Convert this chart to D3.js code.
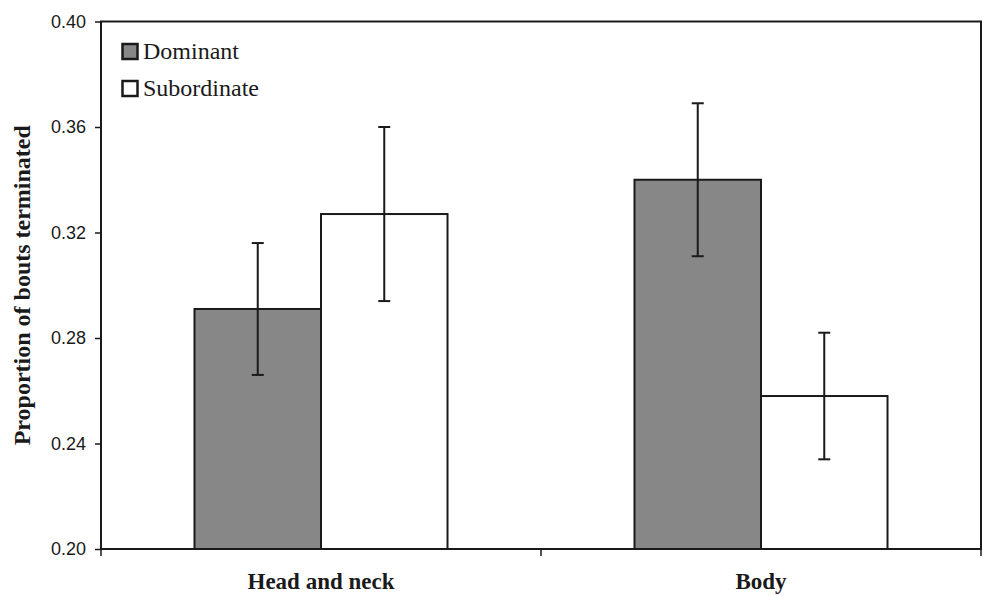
<!DOCTYPE html>
<html>
<head>
<meta charset="utf-8">
<script src="https://cdn.jsdelivr.net/npm/d3@7"></script>
<style>
  html, body { margin: 0; padding: 0; background: #fff; }
  svg { display: block; }
</style>
</head>
<body>
<svg id="chart" width="984" height="596"></svg>
<script>
// Body regions and rank groups
const categories = ["Head and neck", "Body"];
const series = ["Dominant", "Subordinate"];
// Mean proportion of bouts terminated, per series, per region
const dominantValues = [0.291, 0.340];
const subordinateValues = [0.327, 0.258];
// Error (± half-width) for each bar
const dominantErrors = [0.025, 0.029];
const subordinateErrors = [0.033, 0.024];
const yTicks = [0.20, 0.24, 0.28, 0.32, 0.36, 0.40];

const fills = { Dominant: "#878787", Subordinate: "#ffffff" };

const rows = [];
categories.forEach((c, i) => {
  rows.push({ cat: c, s: "Dominant", v: dominantValues[i], e: dominantErrors[i] });
  rows.push({ cat: c, s: "Subordinate", v: subordinateValues[i], e: subordinateErrors[i] });
});

const svg = d3.select("#chart");
const m = { left: 101, right: 981, top: 21.5, bottom: 549 };

const x0 = d3.scaleBand().domain(categories).range([m.left, m.right]).padding(0);
const x1 = d3.scaleBand().domain(series).range([0, x0.bandwidth()])
  .paddingInner(0).paddingOuter(0.739);
const y = d3.scaleLinear().domain([0.20, 0.40]).range([m.bottom, m.top]);

const serif = "'Liberation Serif', 'Times New Roman', serif";
const sans = "'Liberation Sans', Arial, sans-serif";
const ink = "#1a1a1a";

// Bars
svg.append("g").selectAll("rect").data(rows).join("rect")
  .attr("x", d => x0(d.cat) + x1(d.s))
  .attr("y", d => y(d.v))
  .attr("width", x1.bandwidth())
  .attr("height", d => y(0.20) - y(d.v))
  .attr("fill", d => fills[d.s])
  .attr("stroke", ink)
  .attr("stroke-width", 2);

// Error bars
const eb = svg.append("g").attr("stroke", ink).attr("stroke-width", 2);
rows.forEach(d => {
  const cx = x0(d.cat) + x1(d.s) + x1.bandwidth() / 2;
  eb.append("line").attr("x1", cx).attr("x2", cx).attr("y1", y(d.v + d.e)).attr("y2", y(d.v - d.e));
  [d.v + d.e, d.v - d.e].forEach(t => {
    eb.append("line").attr("x1", cx - 6).attr("x2", cx + 6).attr("y1", y(t)).attr("y2", y(t));
  });
});

// Plot frame
svg.append("rect")
  .attr("x", m.left).attr("y", m.top)
  .attr("width", m.right - m.left).attr("height", m.bottom - m.top)
  .attr("fill", "none").attr("stroke", ink).attr("stroke-width", 2);

// Y axis
const yAxis = svg.append("g").attr("transform", `translate(${m.left},0)`)
  .call(d3.axisLeft(y).tickValues(yTicks).tickFormat(d3.format(".2f")).tickSize(6).tickPadding(9));
yAxis.select(".domain").remove();
yAxis.selectAll(".tick line").attr("stroke", ink).attr("stroke-width", 1.5);
yAxis.selectAll(".tick text").attr("font-family", sans).attr("font-size", 18).attr("fill", ink);

// X axis: ticks at category boundaries
const bounds = [m.left, x0(categories[1]), m.right];
svg.append("g").selectAll("line").data(bounds).join("line")
  .attr("x1", d => d).attr("x2", d => d)
  .attr("y1", m.bottom).attr("y2", m.bottom + 7)
  .attr("stroke", ink).attr("stroke-width", 1.5);

svg.append("g").selectAll("text").data(categories).join("text")
  .attr("x", d => x0(d) + x0.bandwidth() / 2)
  .attr("y", 589)
  .attr("text-anchor", "middle")
  .attr("font-family", serif).attr("font-weight", "bold").attr("font-size", 23)
  .attr("fill", ink)
  .text(d => d);

// Y axis title
svg.append("text")
  .attr("transform", `translate(30,${(m.top + m.bottom) / 2}) rotate(-90)`)
  .attr("text-anchor", "middle")
  .attr("font-family", serif).attr("font-weight", "bold").attr("font-size", 24)
  .attr("fill", ink)
  .text("Proportion of bouts terminated");

// Legend
const legend = svg.append("g");
series.forEach((s, i) => {
  const ly = 51 + i * 37;
  legend.append("rect")
    .attr("x", 122.5).attr("y", ly - 7).attr("width", 15).attr("height", 15)
    .attr("fill", fills[s]).attr("stroke", ink).attr("stroke-width", 2.5);
  legend.append("text")
    .attr("x", 143).attr("y", ly + 8)
    .attr("font-family", serif).attr("font-size", 24)
    .attr("fill", ink)
    .text(s);
});
</script>
</body>
</html>
